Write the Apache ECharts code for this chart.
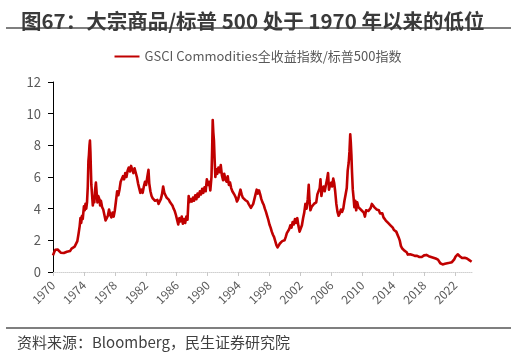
<!DOCTYPE html>
<html>
<head>
<meta charset="utf-8">
<script src="https://cdn.jsdelivr.net/npm/echarts@6/dist/echarts.min.js"></script>
<style>
  html, body { margin: 0; padding: 0; background: #fff; }
  #chart { width: 516px; height: 358px; }
</style>
</head>
<body>
<div id="chart"></div>
<script>
"use strict";

// 年份刻度
let yearTicks = [1970, 1974, 1978, 1982, 1986, 1990, 1994, 1998, 2002, 2006, 2010, 2014, 2018, 2022];

// 时间（年份小数）
let dates = [
  1970.00, 1970.15, 1970.30, 1970.45, 1970.60, 1970.80, 1971.00, 1971.20, 1971.40, 1971.60, 1971.80,
  1972.00, 1972.20, 1972.40, 1972.60, 1972.80, 1973.00, 1973.15, 1973.30, 1973.45, 1973.55, 1973.65,
  1973.75, 1973.85, 1974.00, 1974.10, 1974.20, 1974.30, 1974.40, 1974.50, 1974.58, 1974.65, 1974.72,
  1974.78, 1974.84, 1974.90, 1974.96, 1975.05, 1975.15, 1975.25, 1975.35, 1975.45, 1975.55, 1975.65,
  1975.75, 1975.85, 1976.00, 1976.10, 1976.20, 1976.35, 1976.50, 1976.65, 1976.80, 1976.95, 1977.10,
  1977.25, 1977.40, 1977.55, 1977.70, 1977.85, 1978.00, 1978.15, 1978.30, 1978.45, 1978.60, 1978.75,
  1978.90, 1979.05, 1979.20, 1979.35, 1979.50, 1979.65, 1979.80, 1979.95, 1980.10, 1980.25, 1980.40,
  1980.55, 1980.70, 1980.85, 1981.00, 1981.15, 1981.30, 1981.45, 1981.60, 1981.75, 1981.90, 1982.05,
  1982.20, 1982.35, 1982.45, 1982.60, 1982.75, 1982.90, 1983.05, 1983.20, 1983.35, 1983.50, 1983.65,
  1983.80, 1983.95, 1984.10, 1984.25, 1984.40, 1984.55, 1984.70, 1984.85, 1985.00, 1985.15, 1985.30,
  1985.45, 1985.60, 1985.75, 1985.90, 1986.05, 1986.20, 1986.35, 1986.50, 1986.65, 1986.80, 1986.95,
  1987.10, 1987.25, 1987.40, 1987.55, 1987.65, 1987.80, 1987.95, 1988.10, 1988.25, 1988.40, 1988.55,
  1988.70, 1988.85, 1989.00, 1989.15, 1989.30, 1989.45, 1989.60, 1989.75, 1989.90, 1990.05, 1990.20,
  1990.35, 1990.50, 1990.58, 1990.66, 1990.74, 1990.82, 1990.90, 1991.00, 1991.10, 1991.25, 1991.40,
  1991.55, 1991.70, 1991.85, 1992.00, 1992.15, 1992.30, 1992.45, 1992.60, 1992.75, 1992.90, 1993.05,
  1993.20, 1993.35, 1993.50, 1993.65, 1993.80, 1993.95, 1994.10, 1994.25, 1994.40, 1994.55, 1994.70,
  1994.85, 1995.00, 1995.15, 1995.30, 1995.45, 1995.60, 1995.75, 1995.90, 1996.05, 1996.20, 1996.35,
  1996.50, 1996.65, 1996.80, 1996.95, 1997.10, 1997.25, 1997.40, 1997.55, 1997.70, 1997.85, 1998.00,
  1998.15, 1998.30, 1998.45, 1998.60, 1998.75, 1998.90, 1999.05, 1999.20, 1999.35, 1999.50, 1999.65,
  1999.80, 1999.95, 2000.10, 2000.25, 2000.40, 2000.55, 2000.70, 2000.85, 2001.00, 2001.15, 2001.30,
  2001.45, 2001.60, 2001.75, 2001.90, 2002.05, 2002.20, 2002.35, 2002.50, 2002.65, 2002.80, 2002.95,
  2003.08, 2003.18, 2003.30, 2003.45, 2003.60, 2003.75, 2003.90, 2004.05, 2004.20, 2004.35, 2004.50,
  2004.60, 2004.72, 2004.85, 2005.00, 2005.15, 2005.30, 2005.45, 2005.58, 2005.70, 2005.85, 2006.00,
  2006.10, 2006.25, 2006.38, 2006.50, 2006.65, 2006.80, 2006.95, 2007.10, 2007.25, 2007.40, 2007.55,
  2007.70, 2007.85, 2008.00, 2008.12, 2008.25, 2008.35, 2008.45, 2008.52, 2008.60, 2008.68, 2008.78,
  2008.88, 2008.98, 2009.10, 2009.22, 2009.35, 2009.50, 2009.62, 2009.75, 2009.90, 2010.05, 2010.20,
  2010.35, 2010.50, 2010.65, 2010.80, 2010.95, 2011.10, 2011.25, 2011.40, 2011.55, 2011.70, 2011.85,
  2012.00, 2012.15, 2012.30, 2012.45, 2012.60, 2012.75, 2012.90, 2013.05, 2013.20, 2013.35, 2013.50,
  2013.65, 2013.80, 2013.95, 2014.10, 2014.25, 2014.40, 2014.55, 2014.70, 2014.85, 2015.00, 2015.15,
  2015.30, 2015.45, 2015.60, 2015.75, 2015.90, 2016.05, 2016.20, 2016.35, 2016.50, 2016.65, 2016.80,
  2016.95, 2017.10, 2017.25, 2017.40, 2017.55, 2017.70, 2017.85, 2018.00, 2018.15, 2018.30, 2018.45,
  2018.60, 2018.75, 2018.90, 2019.05, 2019.20, 2019.35, 2019.50, 2019.65, 2019.80, 2019.95, 2020.10,
  2020.25, 2020.40, 2020.55, 2020.70, 2020.85, 2021.00, 2021.15, 2021.30, 2021.45, 2021.60, 2021.75,
  2021.90, 2022.05, 2022.20, 2022.35, 2022.50, 2022.65, 2022.80, 2022.95, 2023.10, 2023.25, 2023.40,
  2023.55, 2023.70, 2023.85, 2024.00, 2024.15
];

// GSCI 全收益指数 / 标普500 指数
let ratio = [
  1.05, 1.25, 1.40, 1.50, 1.42, 1.35, 1.22, 1.25, 1.20, 1.30, 1.28,
  1.38, 1.32, 1.48, 1.42, 1.60, 1.70, 1.95, 2.40, 2.90, 3.40, 3.10,
  3.55, 3.35, 4.15, 3.90, 4.30, 4.00, 4.40, 5.40, 7.00, 7.40, 8.00,
  8.30, 7.60, 6.50, 5.50, 4.90, 4.20, 4.70, 4.40, 5.20, 5.65, 5.00,
  4.40, 4.80, 4.60, 4.20, 4.50, 4.10, 3.95, 3.60, 3.25, 3.40, 3.55,
  3.95, 3.60, 3.45, 3.75, 3.50, 3.90, 4.50, 5.10, 4.85, 5.20, 5.70,
  5.60, 6.05, 5.85, 6.25, 6.00, 6.40, 6.60, 6.35, 6.70, 6.45, 6.25,
  6.55, 6.60, 6.00, 5.60, 5.30, 5.00, 5.20, 5.00, 5.40, 5.70, 5.50,
  6.00, 6.45, 5.60, 5.10, 4.80, 4.65, 4.75, 4.50, 4.40, 4.55, 4.30,
  4.40, 4.60, 4.90, 5.40, 5.00, 4.85, 4.70, 4.60, 4.55, 4.40, 4.35,
  4.20, 4.00, 3.85, 3.60, 3.30, 3.00, 3.40, 3.20, 3.50, 3.05, 3.35,
  3.10, 3.50, 3.30, 4.80, 4.40, 4.60, 4.45, 4.70, 4.50, 4.85, 4.60,
  4.95, 4.75, 5.10, 4.90, 5.25, 5.00, 5.35, 5.10, 5.85, 5.50, 5.70,
  5.15, 6.00, 7.60, 9.60, 8.80, 8.30, 7.20, 6.00, 6.50, 6.20, 6.60,
  6.30, 6.75, 6.10, 5.80, 6.20, 5.85, 5.70, 6.05, 5.50, 5.65, 5.30,
  5.10, 5.00, 4.85, 4.70, 4.45, 4.60, 4.90, 5.20, 4.90, 4.70, 4.80,
  4.55, 4.60, 4.45, 4.30, 4.20, 4.05, 4.15, 4.30, 4.60, 4.90, 5.20,
  4.95, 5.15, 4.90, 4.60, 4.40, 4.25, 4.00, 3.80, 3.55, 3.30, 3.00,
  2.80, 2.55, 2.35, 2.20, 1.95, 1.70, 1.55, 1.65, 1.80, 1.75, 1.95,
  2.05, 2.00, 2.20, 2.45, 2.35, 2.70, 2.95, 2.80, 3.15, 3.00, 3.35,
  3.10, 3.40, 2.90, 2.55, 2.50, 2.95, 3.40, 3.75, 4.30, 4.00, 4.60,
  5.50, 4.50, 3.90, 4.10, 4.00, 4.30, 4.20, 4.40, 4.90, 5.00, 5.30,
  5.85, 4.80, 5.20, 5.40, 5.10, 5.50, 5.85, 6.25, 5.20, 5.50, 5.65,
  5.40, 5.90, 5.60, 5.10, 4.30, 3.80, 3.55, 3.70, 3.95, 3.80, 4.00,
  4.50, 4.90, 5.30, 6.40, 6.90, 7.60, 8.70, 8.20, 7.40, 6.30, 5.20,
  4.70, 4.10, 4.50, 3.90, 4.40, 4.10, 4.00, 4.20, 3.90, 3.80, 3.75,
  3.50, 3.90, 3.80, 3.85, 3.90, 4.05, 4.30, 4.25, 4.10, 4.15, 3.95,
  3.85, 3.90, 3.70, 3.60, 3.70, 3.45, 3.40, 3.25, 3.30, 3.10, 3.00,
  2.95, 3.00, 2.80, 2.65, 2.70, 2.55, 2.45, 2.20, 2.00, 1.65, 1.50,
  1.40, 1.35, 1.30, 1.25, 1.10, 1.05, 1.12, 1.05, 1.08, 1.00, 1.02,
  1.00, 1.02, 0.98, 0.95, 0.92, 0.95, 1.00, 1.05, 1.00, 1.08, 1.02,
  1.00, 0.98, 0.95, 0.92, 0.90, 0.88, 0.85, 0.83, 0.78, 0.72, 0.55,
  0.45, 0.48, 0.50, 0.52, 0.53, 0.55, 0.57, 0.58, 0.60, 0.62, 0.70,
  0.80, 0.95, 1.05, 1.12, 1.00, 0.98, 0.95, 0.88, 0.85, 0.90, 0.80,
  0.85, 0.78, 0.75, 0.72, 0.65
];

let seriesName = 'GSCI Commodities全收益指数/标普500指数';
let titleText = '图67：大宗商品/标普 500 处于 1970 年以来的低位';
let sourceText = '资料来源：Bloomberg，民生证券研究院';

let fontCN = '"Noto Sans CJK SC", "Noto Sans", sans-serif';
let labelColor = '#595959';

let chart = echarts.init(document.getElementById('chart'), null, { renderer: 'canvas' });

let option = {
  backgroundColor: '#fff',
  animation: false,
  title: {
    text: titleText,
    left: 16,
    top: 4,
    textStyle: {
      fontFamily: fontCN,
      fontSize: 20.5,
      fontWeight: 'bold',
      color: '#3a3a3a',
      lineHeight: 24
    }
  },
  legend: {
    top: 45,
    left: 'center',
    icon: 'rect',
    itemWidth: 25,
    itemHeight: 2,
    itemGap: 6,
    textStyle: {
      fontFamily: fontCN,
      fontSize: 13,
      color: labelColor
    },
    data: [seriesName]
  },
  grid: {
    left: 53,
    right: 44,
    top: 82,
    bottom: 86,
    containLabel: false
  },
  xAxis: {
    type: 'value',
    min: 1970,
    max: 2024.2,
    splitLine: { show: false },
    axisLine: {
      show: true,
      lineStyle: { color: '#d0d0d0', type: 'dotted', width: 1 }
    },
    axisTick: {
      show: true,
      length: 4,
      customValues: yearTicks,
      lineStyle: { color: '#c8c8c8' }
    },
    axisLabel: {
      customValues: yearTicks,
      rotate: 45,
      margin: 11,
      fontFamily: fontCN,
      fontSize: 12,
      color: labelColor,
      formatter: (v) => String(Math.round(v))
    }
  },
  yAxis: {
    type: 'value',
    min: 0,
    max: 12,
    interval: 2,
    splitLine: { show: false },
    axisLine: {
      show: true,
      lineStyle: { color: '#000', width: 1 }
    },
    axisTick: {
      show: true,
      length: 5,
      lineStyle: { color: '#000' }
    },
    axisLabel: {
      margin: 12,
      fontFamily: fontCN,
      fontSize: 13,
      color: labelColor
    }
  },
  series: [{
    name: seriesName,
    type: 'line',
    showSymbol: false,
    symbol: 'none',
    data: dates.map((d, i) => [d, ratio[i]]),
    lineStyle: { color: '#c00000', width: 2.6, join: 'round' },
    itemStyle: { color: '#c00000' }
  }],
  graphic: [
    {
      type: 'line',
      shape: { x1: 6, y1: 28, x2: 511, y2: 28 },
      style: { stroke: '#555', lineWidth: 1.5 }
    },
    {
      type: 'line',
      shape: { x1: 6, y1: 328, x2: 511, y2: 328 },
      style: { stroke: '#555', lineWidth: 1.5 }
    },
    {
      type: 'text',
      left: 17,
      top: 335,
      style: {
        text: sourceText,
        font: '15px ' + fontCN,
        fill: '#404040'
      }
    }
  ]
};

chart.setOption(option);
</script>
</body>
</html>
